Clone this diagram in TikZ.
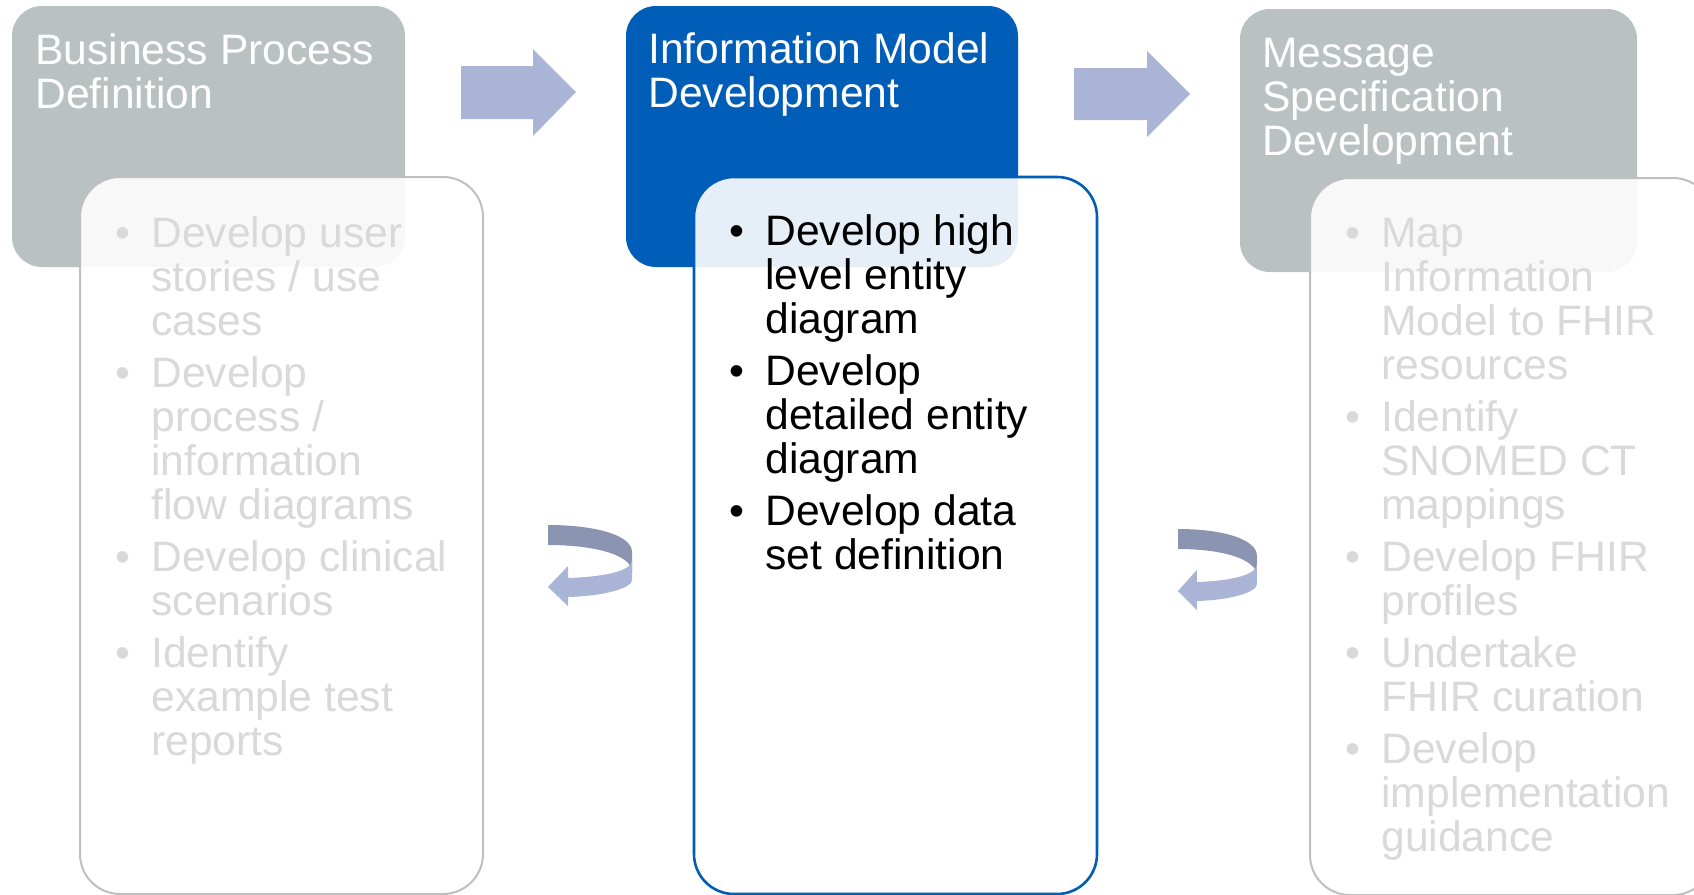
\documentclass[tikz,border=0pt]{standalone}
\usepackage{fontspec}
\setmainfont{Liberation Sans}
\definecolor{hgray}{HTML}{BAC1C3}
\definecolor{nhsblue}{HTML}{005EB8}
\definecolor{bgray}{HTML}{BFBFBF}
\definecolor{tgray}{HTML}{D9D9D9}
\definecolor{arrowc}{HTML}{A9B4D6}
\definecolor{arrowd}{HTML}{8B95B2}
\newcommand\tline[5]{\node[ln,#1] (#2) at (#3,#4) {#5};}
\newcommand\tbul[4]{\node[bul,#1] (#2) at (#3,#4) {\textbullet};}
\begin{document}
\begin{tikzpicture}[x=0.5pt,y=-0.5pt,
  txt/.style={inner sep=0pt,font=\fontsize{21.3}{22}\selectfont},
  hdtext/.style={txt,anchor=base west,text=white},
  ln/.style={txt,anchor=base west},
  bul/.style={txt,anchor=base},
  off/.style={text=tgray},
  on/.style={text=black},
  header/.style={rounded corners=15pt},
  bodybox/.style={rounded corners=20pt,fill=white,fill opacity=0.9},
  blockarrow/.style={fill=arrowc},
]
\useasboundingbox (0,0) rectangle (1694,895);
\clip (0,0) rectangle (1694,895);

% headers
\fill[header,hgray] (12,6) rectangle (405,267);
\fill[header,nhsblue] (626,6) rectangle (1018,267);
\fill[header,hgray] (1240,9) rectangle (1637,272);

% bodies
\draw[bodybox,draw=bgray,line width=1pt] (80,177) rectangle (483,894);
\draw[bodybox,draw=nhsblue,line width=1.3pt] (694,177) rectangle (1097,894);
\draw[bodybox,draw=bgray,line width=1pt] (1310,178) rectangle (1713,895);

% block arrows
\fill[blockarrow] (461,66) -- (533,66) -- (533,49) -- (576,92) -- (533,136) -- (533,119) -- (461,119) -- cycle;
\fill[blockarrow] (1074,68) -- (1147,68) -- (1147,51) -- (1190,94) -- (1147,137) -- (1147,120) -- (1074,120) -- cycle;

% circular arrows
\foreach \sx/\sy/\sc in {548/525/1, 1178/529/0.94}{
\begin{scope}[shift={(\sx,\sy)},xscale=\sc]
  \fill[arrowd] (0,0) .. controls (47,0) and (84,10) .. (84,27) -- (84,47) .. controls (84,30) and (47,20) .. (0,20) -- cycle;
  \fill[arrowc] (84,35) .. controls (84,47) and (52,52) .. (20,53) -- (20,41) -- (0,62) -- (20,81) -- (20,72) .. controls (57,71) and (84,63) .. (84,55) -- cycle;
\end{scope}
}

% header texts
\node[hdtext] (h1a) at (35,64) {Business Process};
\node[hdtext] (h1b) at (35,108) {Definition};
\node[hdtext] (h2a) at (648,63) {Information Model};
\node[hdtext] (h2b) at (648,107) {Development};
\node[hdtext] (h3a) at (1262,67) {Message};
\node[hdtext] (h3b) at (1262,111) {Specification};
\node[hdtext] (h3c) at (1262,155) {Development};

% left body
\tbul{off}{lb1}{123}{247}
\tline{off}{l1a}{151}{247}{Develop user}
\tline{off}{l1b}{151}{291}{stories / use}
\tline{off}{l1c}{151}{335}{cases}
\tbul{off}{lb2}{123}{387}
\tline{off}{l2a}{151}{387}{Develop}
\tline{off}{l2b}{151}{431}{process /}
\tline{off}{l2c}{151}{475}{information}
\tline{off}{l2d}{151}{519}{flow diagrams}
\tbul{off}{lb3}{123}{571}
\tline{off}{l3a}{151}{571}{Develop clinical}
\tline{off}{l3b}{151}{615}{scenarios}
\tbul{off}{lb4}{123}{667}
\tline{off}{l4a}{151}{667}{Identify}
\tline{off}{l4b}{151}{711}{example test}
\tline{off}{l4c}{151}{755}{reports}

% middle body
\tbul{on}{mb1}{737}{245}
\tline{on}{m1a}{765}{245}{Develop high}
\tline{on}{m1b}{765}{289}{level entity}
\tline{on}{m1c}{765}{333}{diagram}
\tbul{on}{mb2}{737}{385}
\tline{on}{m2a}{765}{385}{Develop}
\tline{on}{m2b}{765}{429}{detailed entity}
\tline{on}{m2c}{765}{473}{diagram}
\tbul{on}{mb3}{737}{525}
\tline{on}{m3a}{765}{525}{Develop data}
\tline{on}{m3b}{765}{569}{set definition}

% right body
\tbul{off}{rb1}{1353}{247}
\tline{off}{r1a}{1381}{247}{Map}
\tline{off}{r1b}{1381}{291}{Information}
\tline{off}{r1c}{1381}{335}{Model to FHIR}
\tline{off}{r1d}{1381}{379}{resources}
\tbul{off}{rb2}{1353}{431}
\tline{off}{r2a}{1381}{431}{Identify}
\tline{off}{r2b}{1381}{475}{SNOMED CT}
\tline{off}{r2c}{1381}{519}{mappings}
\tbul{off}{rb3}{1353}{571}
\tline{off}{r3a}{1381}{571}{Develop FHIR}
\tline{off}{r3b}{1381}{615}{profiles}
\tbul{off}{rb4}{1353}{667}
\tline{off}{r4a}{1381}{667}{Undertake}
\tline{off}{r4b}{1381}{711}{FHIR curation}
\tbul{off}{rb5}{1353}{763}
\tline{off}{r5a}{1381}{763}{Develop}
\tline{off}{r5b}{1381}{807}{implementation}
\tline{off}{r5c}{1381}{851}{guidance}
\end{tikzpicture}
\end{document}
